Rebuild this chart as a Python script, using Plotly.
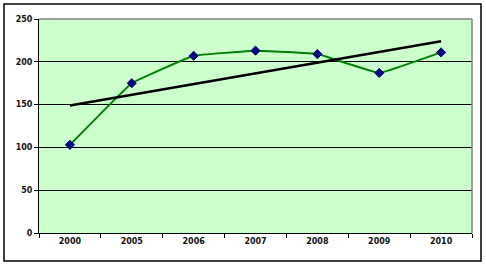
import numpy as np
import plotly.graph_objects as go

years = ["2000", "2005", "2006", "2007", "2008", "2009", "2010"]
values = [103, 175, 207, 213, 209, 187, 211]
y_ticks = [0, 50, 100, 150, 200, 250]

idx = np.arange(len(values))
slope, intercept = np.polyfit(idx, values, 1)
trend = [intercept, intercept + slope * (len(values) - 1)]

W, H = 486, 267
L, R, T, B = 39, 14, 19, 34
pw, ph = W - L - R, H - T - B

fig = go.Figure()
fig.add_trace(go.Scatter(
    x=years, y=values, mode="lines+markers",
    line=dict(color="#008000", width=2, shape="spline", smoothing=0.2),
    marker=dict(symbol="diamond", size=7, color="#000080",
                line=dict(color="#000080", width=1)),
    showlegend=False))
fig.add_trace(go.Scatter(
    x=[years[0], years[-1]], y=trend, mode="lines",
    line=dict(color="black", width=2.5), showlegend=False, hoverinfo="skip"))

tf = dict(size=8, family="DejaVu Sans", color="#111111", weight="bold")
fig.update_layout(
    width=W, height=H,
    margin=dict(l=L, r=R, t=T, b=B),
    paper_bgcolor="white", plot_bgcolor="#CCFFCC",
    xaxis=dict(type="category", categoryorder="array", categoryarray=years,
               range=[-0.5, len(years) - 0.5],
               showgrid=False, showline=True, linecolor="black",
               linewidth=1, ticks="outside", tickson="boundaries", ticklen=4,
               tickcolor="black", tickfont=tf),
    yaxis=dict(range=[0, 250], tickvals=y_ticks, showgrid=True, gridcolor="black",
               gridwidth=1, showline=True, linecolor="black", linewidth=1,
               ticks="outside", ticklen=4, tickcolor="black", zeroline=False,
               tickfont=tf),
    shapes=[
        dict(type="line", xref="paper", yref="paper", x0=0, x1=1, y0=1, y1=1,
             line=dict(color="#808080", width=1.5)),
        dict(type="line", xref="paper", yref="paper", x0=1, x1=1, y0=0, y1=1,
             line=dict(color="#808080", width=1.5)),
        dict(type="rect", xref="paper", yref="paper",
             x0=(4 - L) / pw, x1=(481 - L) / pw,
             y0=(H - B - 261) / ph, y1=(H - B - 4) / ph,
             line=dict(color="black", width=1.5)),
    ],
)
fig.write_html("out.html")
